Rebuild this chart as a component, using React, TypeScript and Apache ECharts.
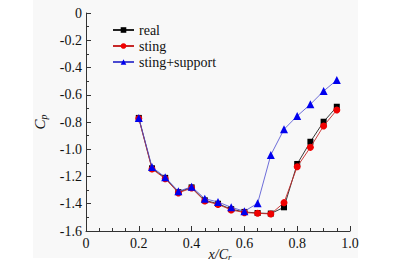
import React, { useEffect, useRef } from "react";
import * as echarts from "echarts";

const xPos = [0.2, 0.25, 0.3, 0.35, 0.4, 0.45, 0.5, 0.55, 0.6, 0.65, 0.7, 0.75, 0.8, 0.85, 0.9, 0.95];
const realVals = [-0.77, -1.14, -1.21, -1.315, -1.28, -1.375, -1.4, -1.44, -1.46, -1.468, -1.472, -1.426, -1.108, -0.945, -0.798, -0.688];
const stingVals = [-0.775, -1.145, -1.216, -1.32, -1.285, -1.38, -1.405, -1.445, -1.465, -1.47, -1.475, -1.392, -1.128, -0.986, -0.829, -0.712];
const supportVals = [-0.77, -1.13, -1.206, -1.309, -1.275, -1.363, -1.387, -1.426, -1.455, -1.397, -1.042, -0.854, -0.756, -0.67, -0.573, -0.492];
const seriesNames = ["real", "sting", "sting+support"];

const FONT = "'Liberation Serif', 'DejaVu Serif', 'Times New Roman', serif";

export default function App() {
  const ref = useRef<HTMLDivElement>(null);
  useEffect(() => {
    if (!ref.current) return;
    const chart = echarts.init(ref.current, null, { renderer: "svg" });
    const pair = (vals: number[]) => xPos.map((x, i) => [x, vals[i]]);
    const axisCommon = {
      axisLine: { show: true, onZero: false, lineStyle: { color: "#333", width: 1 } },
      axisTick: { show: true, inside: true, length: 5, lineStyle: { color: "#333", width: 1 } },
      splitLine: { show: false },
      axisLabel: { color: "#111", fontFamily: FONT, fontSize: 14 },
    };
    chart.setOption({
      animation: false,
      backgroundColor: "#fff",
      textStyle: { fontFamily: FONT },
      grid: { left: 86, top: 13, right: 62, bottom: 32, containLabel: false },
      graphic: [
        {
          type: "rect",
          z: -100,
          silent: true,
          shape: { x: 33, y: 0, width: 325, height: 258 },
          style: { fill: "#f8f8f8" },
        },
        {
          type: "text",
          x: 40,
          y: 122,
          rotation: Math.PI / 2,
          style: {
            text: "{c|C}{s|p}",
            align: "center",
            verticalAlign: "middle",
            rich: {
              c: { fontFamily: FONT, fontStyle: "italic", fontSize: 15, fill: "#111" },
              s: { fontFamily: FONT, fontStyle: "italic", fontSize: 10, fill: "#111", padding: [6, 0, 0, 0] },
            },
          },
        },
        {
          type: "text",
          x: 220,
          y: 254,
          style: {
            text: "{c|x/C}{s|r}",
            align: "center",
            verticalAlign: "middle",
            rich: {
              c: { fontFamily: FONT, fontStyle: "italic", fontSize: 14, fill: "#111" },
              s: { fontFamily: FONT, fontStyle: "italic", fontSize: 9, fill: "#111", padding: [6, 0, 0, 0] },
            },
          },
        },
      ],
      legend: {
        orient: "vertical",
        left: 107,
        top: 18,
        itemWidth: 21,
        itemHeight: 7,
        itemGap: 2,
        data: seriesNames,
        textStyle: { fontFamily: FONT, fontSize: 14, color: "#111" },
      },
      xAxis: {
        type: "value",
        min: 0,
        max: 1,
        interval: 0.2,
        ...axisCommon,
        axisLabel: {
          ...axisCommon.axisLabel,
          margin: 5,
          formatter: (v: number) => (v === 0 ? "0" : v.toFixed(1)),
        },
        minorTick: { show: true, splitNumber: 4, length: 3, lineStyle: { color: "#333", width: 1 } },
      },
      yAxis: {
        type: "value",
        min: -1.6,
        max: 0,
        interval: 0.2,
        ...axisCommon,
        axisLabel: {
          ...axisCommon.axisLabel,
          margin: 4,
          formatter: (v: number) => (Math.abs(v) < 1e-9 ? "0" : v.toFixed(1)),
        },
        minorTick: { show: true, splitNumber: 2, length: 3, lineStyle: { color: "#333", width: 1 } },
      },
      series: [
        {
          name: seriesNames[0],
          type: "line",
          data: pair(realVals),
          symbol: "rect",
          symbolSize: 6,
          lineStyle: { color: "#222", width: 0.9 },
          itemStyle: { color: "#000" },
          z: 2,
        },
        {
          name: seriesNames[1],
          type: "line",
          data: pair(stingVals),
          symbol: "circle",
          symbolSize: 7,
          lineStyle: { color: "#c62828", width: 0.9 },
          itemStyle: { color: "#f00000" },
          z: 3,
        },
        {
          name: seriesNames[2],
          type: "line",
          data: pair(supportVals),
          symbol: "triangle",
          symbolSize: 8,
          lineStyle: { color: "#4a4ad0", width: 0.8 },
          itemStyle: { color: "#0000ee" },
          z: 4,
        },
      ],
    });
    return () => chart.dispose();
  }, []);
  return (
    <div
      ref={ref}
      style={{ position: "fixed", left: 0, top: 0, width: 412, height: 263 }}
    />
  );
}
